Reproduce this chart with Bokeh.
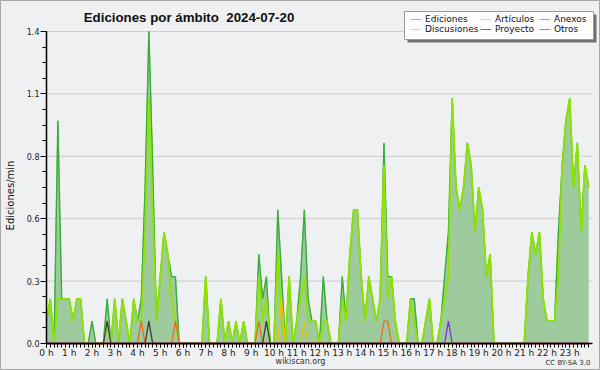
import math
import numpy as np
from bokeh.plotting import figure
from bokeh.models import (Range1d, FixedTicker, Legend, LegendItem, Label,
                          BoxAnnotation, ColumnDataSource)
from bokeh.embed import file_html
from bokeh.resources import INLINE

# ---------------- data (edits per minute, 10-minute buckets) ----------------
minutes = np.arange(144) * 10          # start of each 10-minute bucket
hour_ticks = list(range(24))
hour_labels = {h: f"{h} h" for h in hour_ticks}
y_ticks = [0.0, 0.28, 0.56, 0.84, 1.12, 1.4]
y_labels = {0.0: "0.0", 0.28: "0.3", 0.56: "0.6", 0.84: "0.8", 1.12: "1.1", 1.4: "1.4"}

ediciones = [
    0.1, 0.2, 0.0, 1.0, 0.2, 0.2,   # 0 h
    0.2, 0.1, 0.2, 0.2, 0.0, 0.0,   # 1 h
    0.1, 0.0, 0.0, 0.0, 0.2, 0.0,   # 2 h
    0.2, 0.0, 0.2, 0.1, 0.0, 0.2,   # 3 h
    0.1, 0.2, 0.7, 1.4, 0.8, 0.1,   # 4 h
    0.3, 0.5, 0.4, 0.3, 0.3, 0.0,   # 5 h
    0.0, 0.0, 0.0, 0.0, 0.0, 0.0,   # 6 h
    0.3, 0.0, 0.0, 0.0, 0.2, 0.0,   # 7 h
    0.1, 0.0, 0.1, 0.0, 0.1, 0.0,   # 8 h
    0.0, 0.0, 0.4, 0.2, 0.3, 0.0,   # 9 h
    0.0, 0.6, 0.3, 0.0, 0.3, 0.0,   # 10 h
    0.1, 0.3, 0.6, 0.2, 0.1, 0.1,   # 11 h
    0.0, 0.3, 0.1, 0.0, 0.0, 0.0,   # 12 h
    0.3, 0.1, 0.4, 0.6, 0.6, 0.3,   # 13 h
    0.1, 0.3, 0.2, 0.1, 0.2, 0.9,   # 14 h
    0.3, 0.3, 0.1, 0.0, 0.0, 0.0,   # 15 h
    0.2, 0.2, 0.0, 0.0, 0.1, 0.2,   # 16 h
    0.0, 0.0, 0.1, 0.3, 0.5, 1.1,   # 17 h
    0.7, 0.6, 0.7, 0.9, 0.8, 0.5,   # 18 h
    0.7, 0.6, 0.3, 0.4, 0.0, 0.0,   # 19 h
    0.0, 0.0, 0.0, 0.0, 0.0, 0.0,   # 20 h
    0.0, 0.3, 0.5, 0.4, 0.5, 0.2,   # 21 h
    0.1, 0.1, 0.1, 0.5, 0.8, 1.0,   # 22 h
    1.1, 0.7, 0.9, 0.5, 0.8, 0.7,   # 23 h
]
articulos = [
    0.1, 0.2, 0.0, 0.2, 0.2, 0.2,
    0.2, 0.1, 0.2, 0.2, 0.0, 0.0,
    0.0, 0.0, 0.0, 0.0, 0.1, 0.0,
    0.2, 0.0, 0.2, 0.1, 0.0, 0.2,
    0.1, 0.1, 0.5, 1.1, 0.6, 0.1,
    0.3, 0.5, 0.4, 0.2, 0.1, 0.0,
    0.0, 0.0, 0.0, 0.0, 0.0, 0.0,
    0.3, 0.0, 0.0, 0.0, 0.2, 0.0,
    0.1, 0.0, 0.1, 0.0, 0.1, 0.0,
    0.0, 0.0, 0.3, 0.1, 0.2, 0.0,
    0.0, 0.4, 0.1, 0.0, 0.3, 0.0,
    0.1, 0.2, 0.3, 0.1, 0.1, 0.1,
    0.0, 0.1, 0.1, 0.0, 0.0, 0.0,
    0.2, 0.1, 0.4, 0.6, 0.6, 0.3,
    0.1, 0.3, 0.2, 0.1, 0.2, 0.8,
    0.2, 0.3, 0.1, 0.0, 0.0, 0.0,
    0.2, 0.1, 0.0, 0.0, 0.1, 0.2,
    0.0, 0.0, 0.1, 0.2, 0.3, 1.1,
    0.7, 0.6, 0.7, 0.9, 0.8, 0.5,
    0.7, 0.6, 0.3, 0.4, 0.0, 0.0,
    0.0, 0.0, 0.0, 0.0, 0.0, 0.0,
    0.0, 0.3, 0.5, 0.4, 0.5, 0.2,
    0.1, 0.1, 0.1, 0.3, 0.8, 1.0,
    1.1, 0.7, 0.9, 0.5, 0.8, 0.7,
]
anexos = [0.0] * 144
for i in (25, 34, 56, 89, 90):
    anexos[i] = 0.1
discusiones = [0.0] * 144
discusiones[62] = 0.2
discusiones[68] = 0.1
proyecto = [0.0] * 144
for i in (16, 27, 58):
    proyecto[i] = 0.1
otros = [0.0] * 144
otros[106] = 0.1

series_names = ["Ediciones", "Artículos", "Anexos", "Discusiones", "Proyecto", "Otros"]
series_cols = ["ed", "art", "anx", "dis", "pro", "otr"]
series_colors = ["#3aad3a", "#8fe300", "#f06a1c", "#f2c200", "#3c3c3c", "#8a2be2"]
legend_colors = ["#86d086", "#c6ef72", "#f28e5a", "#f6d466", "#6a6a6a", "#a070e8"]
series_widths = [1.4, 1.8, 1.3, 1.3, 1.3, 1.3]
legend_columns = [["Ediciones", "Discusiones"], ["Artículos", "Proyecto"], ["Anexos", "Otros"]]

# ---------------- layout (canvas pixels, origin top-left) ----------------
W, H = 600, 370
X0_PX, X24_PX = 46, 592          # canvas x of 0 h and 24 h
Y0_PX, YTOP_PX = 343, 31         # canvas y of 0.0 and 1.4
ppx = (X24_PX - X0_PX) / 24.0
ppy = (Y0_PX - YTOP_PX) / 1.4
x_start = -X0_PX / ppx
x_end = 24 + (W - X24_PX) / ppx
y_start = -(H - Y0_PX) / ppy
y_end = 1.4 + YTOP_PX / ppy

src = ColumnDataSource(dict(
    h=minutes / 60.0, ed=ediciones, art=articulos, anx=anexos,
    dis=discusiones, pro=proyecto, otr=otros))

p = figure(width=W, height=H, output_backend="svg", toolbar_location=None,
           title=None, x_range=Range1d(x_start, x_end), y_range=Range1d(y_start, y_end),
           min_border=0, min_border_left=0, min_border_right=0,
           min_border_top=0, min_border_bottom=0)
p.background_fill_color = "#eff0f1"
p.border_fill_color = "#f0f0f0"
p.outline_line_color = "#a8a8a8"
p.outline_line_width = 1
p.xgrid.visible = False
p.ygrid.visible = False

# horizontal grid lines at the y ticks (between the axes only)
p.segment(x0=0, x1=24, y0=y_ticks, y1=y_ticks, line_color="#cccccc", line_width=1)

# pale thin copies of each series (hidden under the real lines; used for the legend swatches)
legend_renderers = {}
for name, col, color in zip(series_names, series_cols, legend_colors):
    legend_renderers[name] = p.line(x="h", y=col, source=src, line_color=color, line_width=1)

# area + lines
p.varea(x="h", y1=0, y2="ed", source=src, fill_color="#9ecb9e", fill_alpha=1.0)
for name, col, color, lw in zip(series_names, series_cols, series_colors, series_widths):
    p.line(x="h", y=col, source=src, line_color=color, line_width=lw)

# axes fixed at the data origin
p.xaxis.fixed_location = 0
p.yaxis.fixed_location = 0
p.xaxis.bounds = (0, 24)
p.yaxis.bounds = (0, 1.4)
p.xaxis.ticker = FixedTicker(ticks=hour_ticks, minor_ticks=[m / 60.0 for m in minutes])
p.xaxis.major_label_overrides = hour_labels
p.yaxis.ticker = FixedTicker(ticks=y_ticks, minor_ticks=[k * 0.07 for k in range(21)])
p.yaxis.major_label_overrides = y_labels
for ax in (p.xaxis[0], p.yaxis[0]):
    ax.axis_line_color = "black"
    ax.axis_line_width = 1.5
    ax.major_tick_line_color = "black"
    ax.minor_tick_line_color = "black"
    ax.major_tick_in = 0
    ax.minor_tick_in = 0
    ax.major_label_text_font = "DejaVu Sans"
    ax.major_label_text_color = "#222222"
p.xaxis.major_tick_out = 4
p.xaxis.minor_tick_out = 4
p.xaxis.major_label_text_font_size = "9px"
p.xaxis.major_label_standoff = 0
p.yaxis.major_tick_out = 6
p.yaxis.minor_tick_out = 4
p.yaxis.major_label_text_font_size = "8px"
p.yaxis.major_label_standoff = 1

# texts (screen units = canvas pixels from bottom-left, frame fills canvas)
def scr_y(canvas_y):
    return H - canvas_y

p.add_layout(Label(x=188.5, y=scr_y(17), x_units="screen", y_units="screen",
                   text="Ediciones por ámbito\u00a0 2024-07-20", text_align="center",
                   text_baseline="middle", text_font="Liberation Sans",
                   text_font_style="bold", text_font_size="13.3px", text_color="#111111"))
p.add_layout(Label(x=10, y=scr_y(195), x_units="screen", y_units="screen",
                   text="Ediciones/min", angle=math.pi / 2, text_align="center",
                   text_baseline="middle", text_font="DejaVu Sans",
                   text_font_size="10px", text_color="#111111"))
p.add_layout(Label(x=300, y=scr_y(361), x_units="screen", y_units="screen",
                   text="wikiscan.org", text_align="center", text_baseline="middle",
                   text_font="DejaVu Sans", text_font_size="8px", text_color="#333333"))
p.add_layout(Label(x=590, y=scr_y(362), x_units="screen", y_units="screen",
                   text="CC BY-SA 3.0", text_align="right", text_baseline="middle",
                   text_font="DejaVu Sans", text_font_size="7px", text_color="#333333"))

# legend: shadow + framed box + three columns of entries
box_l, box_t, box_r, box_b = 404, 11, 593, 39
p.add_layout(BoxAnnotation(left=box_l + 3, right=box_r + 3,
                           top=scr_y(box_t + 3), bottom=scr_y(box_b + 3),
                           left_units="screen", right_units="screen",
                           bottom_units="screen", top_units="screen",
                           fill_color="#707070", fill_alpha=1.0, line_color=None))
p.add_layout(BoxAnnotation(left=box_l, right=box_r, top=scr_y(box_t), bottom=scr_y(box_b),
                           left_units="screen", right_units="screen",
                           bottom_units="screen", top_units="screen",
                           fill_color="#fdfdfd", fill_alpha=1.0,
                           line_color="#999999", line_width=1, line_alpha=1.0))
col_x = [410, 480, 539]
for cx, names in zip(col_x, legend_columns):
    items = [LegendItem(label=n, renderers=[legend_renderers[n]]) for n in names]
    lg = Legend(items=items, orientation="vertical",
                location=(cx, scr_y(34)), label_text_font="DejaVu Sans",
                label_text_font_size="9px", label_height=10, glyph_height=10,
                glyph_width=11, label_standoff=4, spacing=0, padding=0, margin=0,
                border_line_color=None, background_fill_alpha=0.0,
                label_text_color="#111111")
    p.add_layout(lg)

open("out.html", "w").write(file_html(p, INLINE))
